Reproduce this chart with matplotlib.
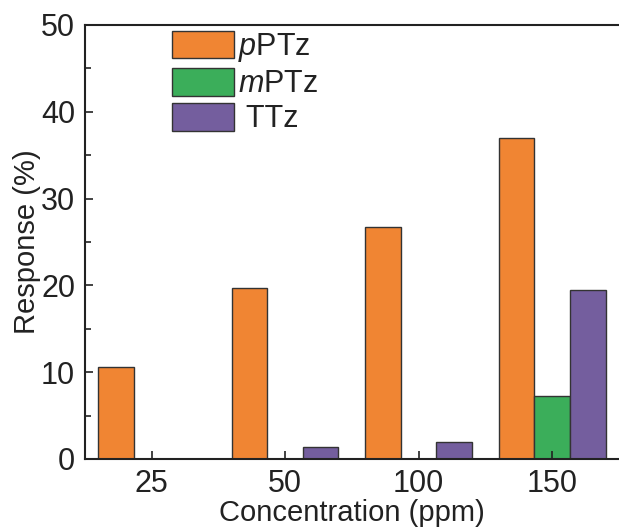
import matplotlib
matplotlib.use("Agg")
import matplotlib.pyplot as plt
import numpy as np

plt.rcParams['font.family'] = ['Liberation Sans', 'DejaVu Sans']
plt.rcParams['mathtext.fontset'] = 'custom'
plt.rcParams['mathtext.rm'] = 'Liberation Sans'
plt.rcParams['mathtext.it'] = 'Liberation Sans:italic'

categories = ['25', '50', '100', '150']
pPTz = [10.6, 19.7, 26.7, 37.0]
mPTz = [0.0, 0.0, 0.0, 7.2]
TTz = [0.0, 1.4, 1.9, 19.5]

colors = ['#F08533', '#3BAE5A', '#745E9E']
edge = '#333333'

fig = plt.figure(figsize=(6.19, 5.28), dpi=100)
ax = fig.add_axes([0.137, 0.1307, 0.863, 0.822])

x = np.arange(len(categories))
w = 0.266
ax.bar(x - w, pPTz, w, color=colors[0], edgecolor=edge, linewidth=1.0, label=r'$\mathit{p}$PTz')
ax.bar(x, mPTz, w, color=colors[1], edgecolor=edge, linewidth=1.0, label=r'$\mathit{m}$PTz')
ax.bar(x + w, TTz, w, color=colors[2], edgecolor=edge, linewidth=1.0, label=' TTz')

ax.set_xlim(-0.5, 3.5)
ax.set_ylim(0, 50)
ax.set_xticks(x)
ax.set_xticklabels(categories)
ax.set_yticks([0, 10, 20, 30, 40, 50])
ax.set_yticks([5, 15, 25, 35, 45], minor=True)
ax.tick_params(axis='both', which='both', direction='in', labelsize=22, color='#222222', labelcolor='#222222')
ax.tick_params(axis='both', which='major', length=6, width=1.2)
ax.tick_params(axis='y', which='minor', length=4, width=1.2)
ax.tick_params(axis='x', which='major', pad=7)
ax.tick_params(axis='y', which='major', pad=7)
ax.spines['right'].set_visible(False)
for s in ['left', 'bottom', 'top']:
    ax.spines[s].set_linewidth(1.5)
    ax.spines[s].set_color('#222222')

ax.set_xlabel('Concentration (ppm)', fontsize=21, labelpad=0, color='#222222')
ax.set_ylabel('Response (%)', fontsize=21, labelpad=0, color='#222222')

leg = ax.legend(loc='upper left', bbox_to_anchor=(0.163, 0.986), frameon=False,
                fontsize=22, handlelength=2.03, handleheight=1.0, labelspacing=0.13,
                borderpad=0, borderaxespad=0, handletextpad=0.15)
for t in leg.get_texts():
    t.set_color('#222222')

fig.savefig('out.png', dpi=100)
